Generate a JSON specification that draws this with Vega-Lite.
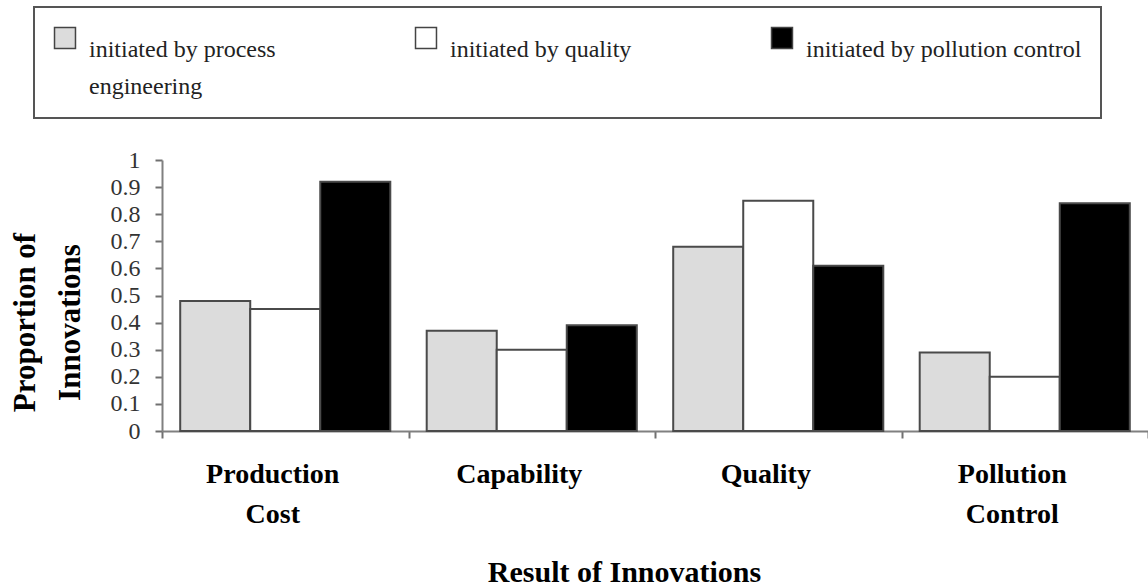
{
  "$schema": "https://vega.github.io/schema/vega-lite/v6.json",
  "width": 986,
  "height": 271,
  "autosize": {"type": "none"},
  "padding": {"left": 162, "top": 160, "right": 0, "bottom": 157},
  "background": "#ffffff",
  "config": {
    "view": {"stroke": null},
    "font": "Liberation Serif",
    "legend": {"strokeColor": "#555555", "strokeWidth": 2},
    "style": {"guide-label": {"lineHeight": 37}}
  },
  "data": {
    "values": [
      {"result": "Production Cost", "initiator": "initiated by process engineering", "proportion": 0.48},
      {"result": "Production Cost", "initiator": "initiated by quality", "proportion": 0.45},
      {"result": "Production Cost", "initiator": "initiated by pollution control", "proportion": 0.92},
      {"result": "Capability", "initiator": "initiated by process engineering", "proportion": 0.37},
      {"result": "Capability", "initiator": "initiated by quality", "proportion": 0.30},
      {"result": "Capability", "initiator": "initiated by pollution control", "proportion": 0.39},
      {"result": "Quality", "initiator": "initiated by process engineering", "proportion": 0.68},
      {"result": "Quality", "initiator": "initiated by quality", "proportion": 0.85},
      {"result": "Quality", "initiator": "initiated by pollution control", "proportion": 0.61},
      {"result": "Pollution Control", "initiator": "initiated by process engineering", "proportion": 0.29},
      {"result": "Pollution Control", "initiator": "initiated by quality", "proportion": 0.20},
      {"result": "Pollution Control", "initiator": "initiated by pollution control", "proportion": 0.84}
    ]
  },
  "mark": {"type": "bar", "stroke": "#4a4a4a", "strokeWidth": 2},
  "encoding": {
    "x": {
      "field": "result",
      "type": "nominal",
      "sort": ["Production Cost", "Capability", "Quality", "Pollution Control"],
      "scale": {"paddingInner": 0, "paddingOuter": 0},
      "axis": {
        "title": "Result of Innovations",
        "titleFont": "Liberation Serif",
        "titleFontSize": 30,
        "titleFontWeight": "bold",
        "titleColor": "#000000",
        "titleX": 462,
        "titleY": 141,
        "titleAlign": "center",
        "titleBaseline": "middle",
        "labelExpr": "split(datum.label, ' ')",
        "labelFont": "Liberation Serif",
        "labelFontSize": 28,
        "labelFontWeight": "bold",
        "labelColor": "#000000",
        "labelAngle": 0,
        "labelAlign": "center",
        "labelBaseline": "alphabetic",
        "labelLineHeight": 40,
        "labelPadding": 44,
        "labelOffset": -13,
        "tickBand": "extent",
        "tickSize": 7,
        "tickWidth": 2,
        "tickColor": "#707070",
        "domainColor": "#808080",
        "domainWidth": 2,
        "grid": false
      }
    },
    "xOffset": {
      "field": "initiator",
      "type": "nominal",
      "sort": ["initiated by process engineering", "initiated by quality", "initiated by pollution control"],
      "scale": {"paddingInner": 0, "paddingOuter": 0.26}
    },
    "y": {
      "field": "proportion",
      "type": "quantitative",
      "scale": {"domain": [0, 1], "nice": false},
      "axis": {
        "title": ["Proportion of", "Innovations"],
        "titleFont": "Liberation Serif",
        "titleFontSize": 31,
        "titleFontWeight": "bold",
        "titleColor": "#000000",
        "titleAngle": -90,
        "titleLineHeight": 45,
        "titleX": -137,
        "titleY": 162,
        "titleAlign": "center",
        "titleBaseline": "middle",
        "values": [0, 0.1, 0.2, 0.3, 0.4, 0.5, 0.6, 0.7, 0.8, 0.9, 1],
        "format": "~g",
        "labelFont": "Liberation Serif",
        "labelFontSize": 24,
        "labelColor": "#333333",
        "labelPadding": 15,
        "tickSize": 7,
        "tickWidth": 2,
        "tickColor": "#707070",
        "domainColor": "#808080",
        "domainWidth": 2,
        "grid": false
      }
    },
    "fill": {
      "field": "initiator",
      "type": "nominal",
      "sort": ["initiated by process engineering", "initiated by quality", "initiated by pollution control"],
      "scale": {
        "domain": ["initiated by process engineering", "initiated by quality", "initiated by pollution control"],
        "range": ["#dcdcdc", "#ffffff", "#000000"]
      },
      "legend": {
        "title": null,
        "orient": "none",
        "legendX": -128,
        "legendY": -153,
        "direction": "horizontal",
        "columns": 3,
        "columnPadding": 136,
        "padding": 19,
        "fillColor": "#ffffff",
        "symbolType": "square",
        "symbolSize": 440,
        "symbolStrokeColor": "#444444",
        "symbolStrokeWidth": 1.5,
        "labelFont": "Liberation Serif",
        "labelFontSize": 24,
        "labelColor": "#222222",
        "labelBaseline": "top",
        "labelOffset": 12,
        "labelLimit": 0,
        "labelExpr": "datum.label == 'initiated by process engineering' ? ['initiated by process', 'engineering'] : [datum.label, '']"
      }
    }
  }
}
